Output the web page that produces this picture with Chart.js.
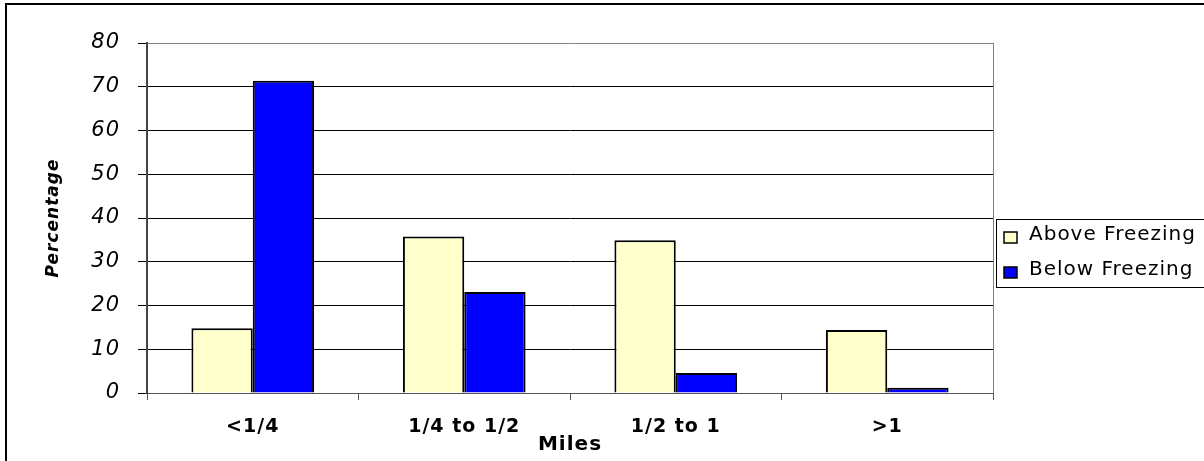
<!DOCTYPE html>
<html>
<head>
<meta charset="utf-8">
<script src="https://cdn.jsdelivr.net/npm/chart.js@4.4.1/dist/chart.umd.min.js"></script>
<style>
  html, body { margin: 0; padding: 0; background: #fff; }
  #wrap { width: 1204px; height: 461px; position: relative; }
</style>
</head>
<body>
<div id="wrap"><canvas id="barChart"></canvas></div>
<script>
const categories = ["<1/4", "1/4 to 1/2", "1/2 to 1", ">1"];
const aboveFreezing = [14.8, 35.8, 34.9, 14.4];
const belowFreezing = [71.4, 23.1, 4.6, 1.2];
const seriesNames = ["Above Freezing", "Below Freezing"];
const yTicks = [0, 10, 20, 30, 40, 50, 60, 70, 80];

// the original looks squashed vertically, so text gets a little extra spacing
function spacing(chart) {
    chart.ctx.letterSpacing = "1px";
}

const framePlugin = {
    id: "frame",
    beforeUpdate: spacing,
    beforeLayout: spacing,
    beforeDraw(chart) {
        spacing(chart);
        let ctx = chart.ctx;
        ctx.save();
        ctx.strokeStyle = "#000";
        ctx.lineWidth = 2;
        ctx.strokeRect(6, 4, 1400, 700);
        ctx.restore();
    },
    afterDraw(chart) {
        let ctx = chart.ctx;
        let a = chart.chartArea;
        ctx.save();
        // right edge of plot area
        ctx.strokeStyle = "#808080";
        ctx.lineWidth = 1;
        ctx.beginPath();
        ctx.moveTo(Math.round(a.right) + 0.5, a.top);
        ctx.lineTo(Math.round(a.right) + 0.5, a.bottom);
        ctx.stroke();

        // legend box
        ctx.strokeStyle = "#000";
        ctx.strokeRect(996.5, 219.5, 400, 68);
        ctx.font = "20px 'DejaVu Sans'";
        ctx.textBaseline = "middle";
        chart.data.datasets.forEach((ds, i) => {
            let cy = 237 + i * 35;
            ctx.fillStyle = ds.backgroundColor;
            ctx.fillRect(1004, cy - 5, 13, 11);
            ctx.strokeStyle = "#000";
            ctx.lineWidth = 1.5;
            ctx.strokeRect(1004, cy - 5, 13, 11);
            ctx.fillStyle = "#000";
            ctx.fillText(ds.label, 1029, cy - 2);
        });
        ctx.restore();
    }
};

let ctxBar = document.getElementById("barChart").getContext("2d");
window.barChart = new Chart(ctxBar, {
    type: "bar",
    data: {
        labels: categories,
        datasets: [{
            label: seriesNames[0],
            data: aboveFreezing,
            backgroundColor: "#FFFFCC",
            borderColor: "#000",
            borderWidth: 2
        }, {
            label: seriesNames[1],
            data: belowFreezing,
            backgroundColor: "#0000FF",
            borderColor: "#000",
            borderWidth: 2
        }]
    },
    options: {
        responsive: true,
        maintainAspectRatio: false,
        animation: false,
        events: [],
        categoryPercentage: 0.58,
        barPercentage: 1.0,
        layout: { padding: { top: 43, right: 211, left: 0, bottom: 0 } },
        plugins: {
            legend: { display: false },
            tooltip: { enabled: false }
        },
        scales: {
            x: {
                grid: {
                    offset: true,
                    drawOnChartArea: false,
                    drawTicks: true,
                    tickLength: 7,
                    color: "#555"
                },
                border: { color: "#555", width: 1 },
                ticks: {
                    color: "#000",
                    padding: 16,
                    maxRotation: 0,
                    font: { family: "'DejaVu Sans'", size: 19, weight: "bold" }
                },
                title: {
                    display: true,
                    text: "Miles",
                    color: "#000",
                    padding: { top: 0, bottom: 4 },
                    font: { family: "'DejaVu Sans'", size: 20, weight: "bold" }
                },
                afterFit(scale) { scale.height = 68; }
            },
            y: {
                min: 0,
                max: 80,
                afterBuildTicks(scale) {
                    scale.ticks = yTicks.map(v => ({ value: v }));
                },
                grid: {
                    color: c => (c.tick && c.tick.value === 80) ? "#808080" : "#000",
                    tickColor: "#000",
                    tickLength: 9,
                    lineWidth: 1
                },
                border: { color: "#444", width: 2 },
                ticks: {
                    color: "#000",
                    padding: 18,
                    font: { family: "'DejaVu Sans'", size: 21, style: "italic" }
                },
                title: {
                    display: true,
                    text: "Percentage",
                    color: "#000",
                    padding: { top: 43, bottom: 0 },
                    font: { family: "'DejaVu Sans'", size: 17, weight: "bold", style: "italic" }
                },
                afterFit(scale) { scale.width = 147; }
            }
        }
    },
    plugins: [framePlugin]
});
</script>
</body>
</html>
